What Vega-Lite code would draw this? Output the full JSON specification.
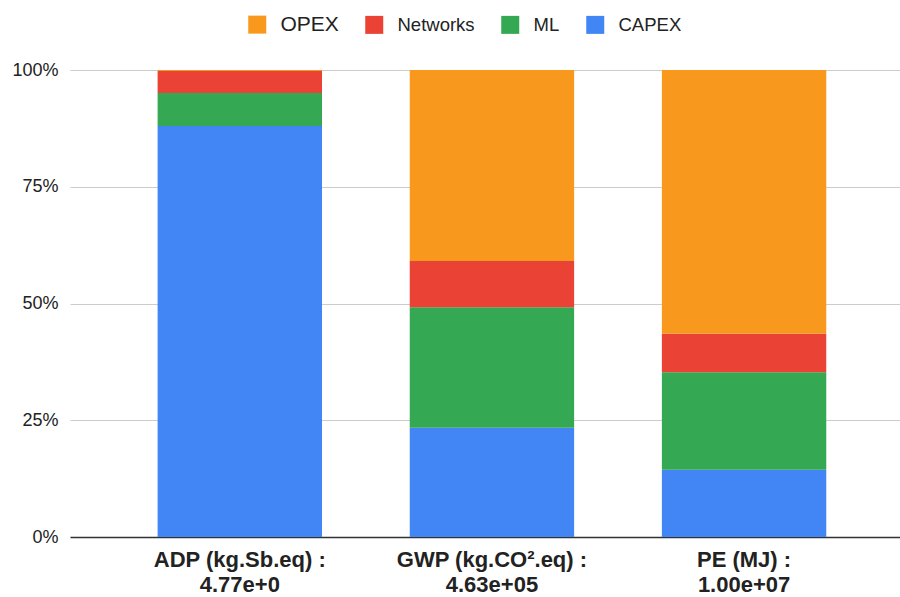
{
  "$schema": "https://vega.github.io/schema/vega-lite/v6.json",
  "autosize": "none",
  "padding": {"left": 70, "top": 70, "right": 0, "bottom": 60},
  "width": 830,
  "height": 467,
  "background": "white",
  "config": {
    "view": {"stroke": null},
    "font": "Liberation Sans"
  },
  "data": {
    "values": [
      {"metric": "ADP (kg.Sb.eq) :\n4.77e+0", "part": "CAPEX", "ord": 0, "value": 88.0},
      {"metric": "ADP (kg.Sb.eq) :\n4.77e+0", "part": "ML", "ord": 1, "value": 7.1},
      {"metric": "ADP (kg.Sb.eq) :\n4.77e+0", "part": "Networks", "ord": 2, "value": 4.7},
      {"metric": "ADP (kg.Sb.eq) :\n4.77e+0", "part": "OPEX", "ord": 3, "value": 0.2},
      {"metric": "GWP (kg.CO².eq) :\n4.63e+05", "part": "CAPEX", "ord": 0, "value": 23.4},
      {"metric": "GWP (kg.CO².eq) :\n4.63e+05", "part": "ML", "ord": 1, "value": 25.8},
      {"metric": "GWP (kg.CO².eq) :\n4.63e+05", "part": "Networks", "ord": 2, "value": 9.9},
      {"metric": "GWP (kg.CO².eq) :\n4.63e+05", "part": "OPEX", "ord": 3, "value": 40.9},
      {"metric": "PE (MJ) :\n1.00e+07", "part": "CAPEX", "ord": 0, "value": 14.4},
      {"metric": "PE (MJ) :\n1.00e+07", "part": "ML", "ord": 1, "value": 20.9},
      {"metric": "PE (MJ) :\n1.00e+07", "part": "Networks", "ord": 2, "value": 8.2},
      {"metric": "PE (MJ) :\n1.00e+07", "part": "OPEX", "ord": 3, "value": 56.5}
    ]
  },
  "mark": {"type": "bar"},
  "encoding": {
    "x": {
      "field": "metric",
      "type": "nominal",
      "sort": null,
      "scale": {"paddingInner": 0.348, "paddingOuter": 0.32, "align": 0.543},
      "axis": {
        "title": null,
        "labelAngle": 0,
        "labelExpr": "split(datum.label, '\\n')",
        "labelFont": "Liberation Sans",
        "labelFontSize": 22,
        "labelFontWeight": "bold",
        "labelColor": "#222222",
        "labelLineHeight": 25,
        "labelPadding": 12,
        "labelLimit": 400,
        "ticks": false,
        "domainColor": "#333333",
        "domainWidth": 1.5
      }
    },
    "y": {
      "field": "value",
      "type": "quantitative",
      "stack": "normalize",
      "scale": {"domain": [0, 1]},
      "axis": {
        "title": null,
        "format": ".0%",
        "values": [0, 0.25, 0.5, 0.75, 1],
        "domain": false,
        "ticks": false,
        "grid": true,
        "gridColor": "#cccccc",
        "gridWidth": 1,
        "labelFont": "Liberation Sans",
        "labelFontSize": 18,
        "labelColor": "#222222",
        "labelPadding": 12
      }
    },
    "color": {
      "field": "part",
      "type": "nominal",
      "scale": {
        "domain": ["OPEX", "Networks", "ML", "CAPEX"],
        "range": ["#f8981d", "#ea4335", "#34a853", "#4285f4"]
      },
      "legend": {
        "title": null,
        "orient": "none",
        "direction": "horizontal",
        "legendX": 178,
        "legendY": -55,
        "padding": 0,
        "symbolType": "square",
        "symbolSize": 324,
        "symbolStrokeWidth": 0,
        "symbolOpacity": 1,
        "labelFont": "Liberation Sans",
        "labelFontSize": 18.5,
        "labelColor": "#222222",
        "labelOffset": 14,
        "columnPadding": 26,
        "encode": {
          "labels": {
            "update": {
              "fontSize": {"signal": "datum.label === 'OPEX' ? 21 : 18.5"}
            }
          }
        }
      }
    },
    "order": {"field": "ord", "type": "quantitative", "sort": "ascending"}
  }
}
